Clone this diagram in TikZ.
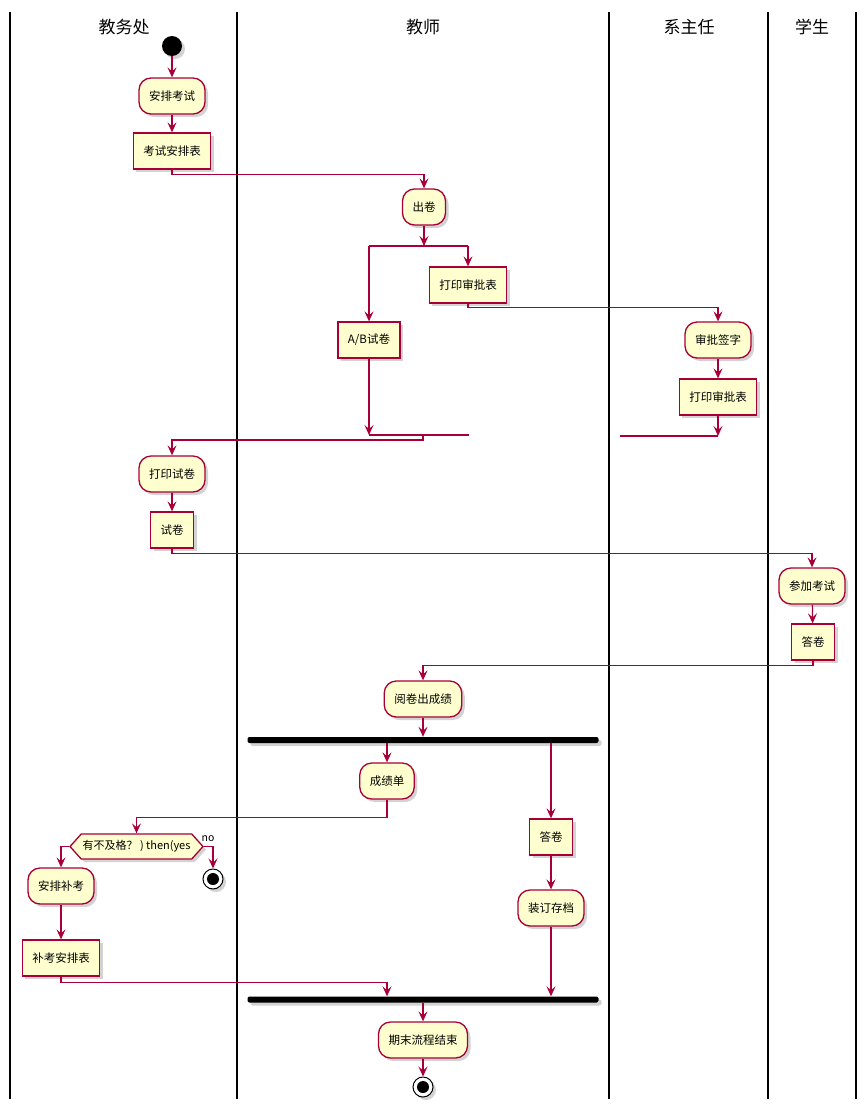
\documentclass[tikz,border=0pt]{standalone}
\usepackage{fontspec}
\setmainfont{Noto Sans CJK SC}
\usepackage{tikz}
\usetikzlibrary{arrows.meta,shapes.symbols,shadows,calc}

\definecolor{pline}{HTML}{A80036}
\definecolor{pfill}{HTML}{FEFECE}

\begin{document}
\begin{tikzpicture}[
    % GLOBAL CFG
    x=1pt, y=-1pt,
    font=\fontsize{11.5}{13}\selectfont,
    >={Stealth[length=10pt,width=9pt,inset=4pt]},
    % Styles
    lane/.style={% swimlane borders
        draw=black,
        line width=2pt,
        },
    lanehead/.style={% swimlane titles
        font=\fontsize{17}{20}\selectfont,
        },
    act/.style={% rounded activity boxes
        rectangle,
        rounded corners=12pt,
        draw=pline,
        line width=1.3pt,
        fill=pfill,
        minimum height=36pt,
        inner xsep=10pt,
        drop shadow={shadow xshift=3pt, shadow yshift=-3pt, opacity=0.35, fill=gray},
        },
    doc/.style={% plain square boxes
        act,
        rounded corners=0pt,
        },
    ask/.style={% the if test
        signal,
        signal to=east and west,
        signal pointer angle=96,
        draw=pline,
        line width=1.3pt,
        fill=pfill,
        minimum width=133pt,
        minimum height=25pt,
        inner sep=1pt,
        font=\fontsize{11}{12}\selectfont,
        drop shadow={shadow xshift=3pt, shadow yshift=-3pt, opacity=0.35, fill=gray},
        },
    bar/.style={% fork and join bars
        rectangle,
        rounded corners=2pt,
        fill=black,
        minimum width=351pt,
        minimum height=6pt,
        inner sep=0pt,
        drop shadow={shadow xshift=3pt, shadow yshift=-3pt, opacity=0.35, fill=gray},
        },
    startnode/.style={% start dot
        circle,
        fill=black,
        minimum size=20pt,
        inner sep=0pt,
        drop shadow={shadow xshift=3pt, shadow yshift=-3pt, opacity=0.35, fill=gray},
        },
    stopnode/.style={% stop dot
        circle,
        draw=black,
        line width=1pt,
        fill=white,
        minimum size=20pt,
        inner sep=0pt,
        path picture={\fill[black] (path picture bounding box.center) circle (6pt);},
        drop shadow={shadow xshift=3pt, shadow yshift=-3pt, opacity=0.35, fill=gray},
        },
    flow/.style={% connectors
        draw=pline,
        line width=1.2pt,
        },
    ]

\useasboundingbox (0,0) rectangle (867,1109);

    % Swimlanes
    \foreach \lx in {10,237,609,768,856}
        \draw [lane] (\lx,12) -- (\lx,1099);
    \node [lanehead] (hd1) at (124,27) {教务处};
    \node [lanehead] (hd2) at (423,27) {教师};
    \node [lanehead] (hd3) at (689,27) {系主任};
    \node [lanehead] (hd4) at (812,27) {学生};

    % Draw activities
    \node [startnode] (s0) at (172,46) {};
    \node [act] (a1) at (172,96) {安排考试};
    \node [doc] (a2) at (172,151) {考试安排表};
    \node [act] (c1) at (424,207) {出卷};
    \node [doc] (p1) at (468,285) {打印审批表};
    \node [doc] (ab) at (369,340) {A/B试卷};
    \node [act] (d1) at (718,340) {审批签字};
    \node [doc] (d2) at (718,397) {打印审批表};
    \node [act] (e1) at (172,474) {打印试卷};
    \node [doc] (e2) at (172,530) {试卷};
    \node [act] (g1) at (812,586) {参加考试};
    \node [doc] (g2) at (813,642) {答卷};
    \node [act] (h1) at (423,699) {阅卷出成绩};
    \node [bar] (bar1) at (423,740) {};
    \node [act] (k1) at (387,781) {成绩单};
    \node [doc] (k2) at (551,837) {答卷};
    \node [act] (k3) at (551,908) {装订存档};
    \node [ask] (q) at (136.5,846.5) {有不及格？ ) then(yes};
    \node [font=\fontsize{10.5}{12}\selectfont, inner sep=0pt] (no) at (208,839) {no};
    \node [stopnode] (t1) at (213,879) {};
    \node [act] (r1) at (61,886) {安排补考};
    \node [doc] (r2) at (61,958) {补考安排表};
    \node [bar] (bar2) at (423,999.5) {};
    \node [act] (z) at (423,1040) {期末流程结束};
    \node [stopnode] (t2) at (423,1087) {};

    % Split and merge points
    \coordinate (f0) at (424,246);
    \coordinate (fL) at (369,246);
    \coordinate (fR) at (468,246);
    \coordinate (m1) at (369,435);
    \coordinate (m1r) at (469,435);
    \coordinate (m2) at (718,436);
    \coordinate (m2l) at (620,436);
    \coordinate (mc) at (423,435);

    % Connectors
    \draw [->, flow] (s0) -- (a1);
    \draw [->, flow] (a1) -- (a2);
    \draw [->, flow] (a2.south) -- ++(0,5) -| (c1.north);
    \draw [->, flow] (c1) -- (f0);
    \draw [flow] (fL) -- (fR);
    \draw [->, flow] (fL) -- (ab);
    \draw [->, flow] (fR) -- (p1);
    \draw [->, flow] (p1.south) -- ++(0,4) -| (d1.north);
    \draw [->, flow] (d1) -- (d2);
    \draw [->, flow] (d2) -- (m2);
    \draw [flow] (m2) -- (m2l);
    \draw [->, flow] (ab) -- (m1);
    \draw [flow] (m1) -- (m1r);
    \draw [->, flow] (mc) -- ++(0,5) -| (e1.north);
    \draw [->, flow] (e1) -- (e2);
    \draw [->, flow] (e2.south) -- ++(0,5) -| (g1.north);
    \draw [->, flow] (g1) -- (g2);
    \draw [->, flow] (g2.south) -- ++(0,5) -| (h1.north);
    \draw [->, flow] (h1) -- (h1 |- bar1.north);
    \draw [->, flow] (bar1.south -| k1) -- (k1);
    \draw [->, flow] (bar1.south -| k2) -- (k2);
    \draw [->, flow] (k2) -- (k3);
    \draw [->, flow] (k3) -- (k3 |- bar2.north);
    \draw [->, flow] (k1.south) -- ++(0,18) -| (q.north);
    \draw [->, flow] (q.west) -| (r1.north);
    \draw [->, flow] (q.east) -| (t1.north);
    \draw [->, flow] (r1) -- (r2);
    \draw [->, flow] (r2.south) -- ++(0,6) -| (bar2.north -| k1);
    \draw [->, flow] (bar2.south -| z) -- (z);
    \draw [->, flow] (z) -- (t2);

\end{tikzpicture}
\end{document}
